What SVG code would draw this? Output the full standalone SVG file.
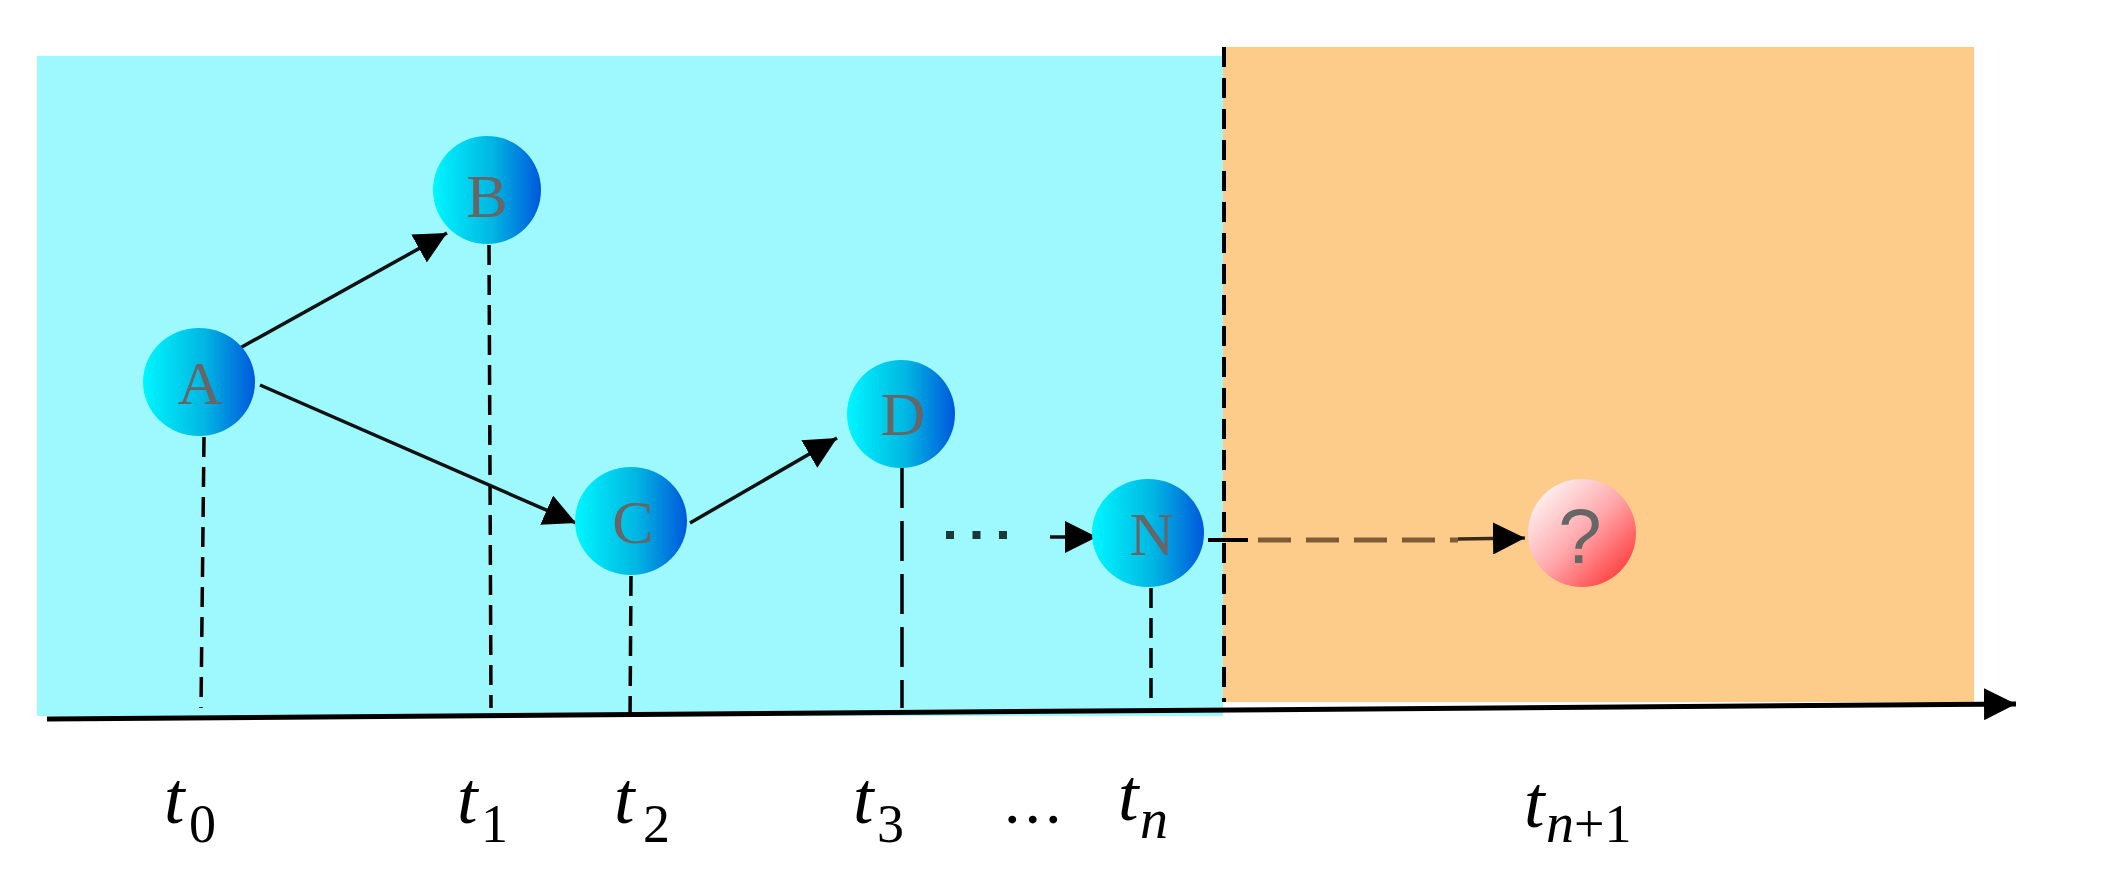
<svg xmlns="http://www.w3.org/2000/svg" width="2109" height="882" viewBox="0 0 2109 882">
<style>
.node-letter{font-family:"Liberation Serif","DejaVu Serif",serif;font-size:62px;fill:#666;text-anchor:middle}
.q{font-family:"Liberation Sans","DejaVu Sans",sans-serif;font-size:78px;fill:#666;text-anchor:middle}
.vdash{stroke:#000;stroke-width:3.5;fill:none;stroke-dasharray:20 10}
.arrow{stroke:#111;stroke-width:3.5;fill:none;marker-end:url(#ah)}
.lbl{font-family:"Liberation Serif","DejaVu Serif",serif;font-size:74px;font-style:italic;fill:#000}
.sub{font-family:"Liberation Serif","DejaVu Serif",serif;font-size:54px;fill:#000}
.subi{font-family:"Liberation Serif","DejaVu Serif",serif;font-size:56px;font-style:italic;fill:#000}
</style>
<defs>
<linearGradient id="blue" x1="0" y1="0" x2="1" y2="0">
<stop offset="0" stop-color="#00f6ff"/>
<stop offset="0.55" stop-color="#00b6e2"/>
<stop offset="1" stop-color="#0058dc"/>
</linearGradient>
<linearGradient id="red" x1="0.1" y1="0.1" x2="0.9" y2="0.9">
<stop offset="0" stop-color="#fff4f4"/>
<stop offset="0.5" stop-color="#ffa8ac"/>
<stop offset="1" stop-color="#ff3c3c"/>
</linearGradient>
<marker id="ah" viewBox="0 0 32 32" refX="32" refY="16" markerWidth="32" markerHeight="32" markerUnits="userSpaceOnUse" orient="auto">
<path d="M0,0 L32,16 L0,32 Z" fill="#000"/>
</marker>
</defs>

<g id="background">
<rect x="37" y="56" width="1186" height="660" fill="#9df9fe"/>
<rect x="1223" y="47" width="751" height="655" fill="#fecc8a"/>
</g>

<g id="connectors">
<line class="vdash" x1="1224" y1="47" x2="1224" y2="702" style="stroke-width:4;stroke-dasharray:20 11"/>
<line class="vdash" x1="204" y1="437" x2="201" y2="708"/>
<line class="vdash" x1="489" y1="245" x2="491" y2="708"/>
<line class="vdash" x1="631" y1="576" x2="630" y2="722"/>
<line class="vdash" x1="902" y1="468" x2="902" y2="708" style="stroke-dasharray:40 13"/>
<line class="vdash" x1="1151" y1="588" x2="1151" y2="708"/>
<line x1="47" y1="719" x2="2016" y2="704" stroke="#000" stroke-width="5" marker-end="url(#ah)"/>
<line class="arrow" x1="240" y1="348" x2="447" y2="233"/>
<line class="arrow" x1="260" y1="385" x2="576" y2="523"/>
<line class="arrow" x1="690" y1="523" x2="837" y2="438"/>
<line x1="946" y1="535" x2="1010" y2="535" stroke="#1a3a3a" stroke-width="8" stroke-dasharray="8 18.5"/>
<line class="arrow" x1="1050" y1="537" x2="1097" y2="537"/>
<line x1="1208" y1="540" x2="1248" y2="540" stroke="#000" stroke-width="4"/>
<line x1="1258" y1="540" x2="1458" y2="540" stroke="#7e5c38" stroke-width="5" stroke-dasharray="33 15"/>
<line x1="1458" y1="539" x2="1525" y2="538" stroke="#3a2a18" stroke-width="3.5" marker-end="url(#ah)"/>
</g>

<g id="node-A">
<ellipse cx="199" cy="382" rx="56" ry="54" fill="url(#blue)"/>
<text class="node-letter" x="200" y="404">A</text>
</g>
<g id="node-B">
<ellipse cx="487" cy="190" rx="54" ry="54" fill="url(#blue)"/>
<text class="node-letter" x="487" y="217">B</text>
</g>
<g id="node-C">
<ellipse cx="631" cy="521" rx="56" ry="54" fill="url(#blue)"/>
<text class="node-letter" x="633" y="543">C</text>
</g>
<g id="node-D">
<ellipse cx="901" cy="414" rx="54" ry="54" fill="url(#blue)"/>
<text class="node-letter" x="903" y="435">D</text>
</g>
<g id="node-N">
<ellipse cx="1148" cy="533" rx="56" ry="54" fill="url(#blue)"/>
<text class="node-letter" x="1152" y="555">N</text>
</g>
<g id="node-Q">
<ellipse cx="1582" cy="533" rx="54" ry="54" fill="url(#red)"/>
<text class="q" x="1580" y="563">?</text>
</g>

<g id="labels">
<text class="lbl" x="164" y="823">t</text><text class="sub" x="189" y="842">0</text>
<text class="lbl" x="457" y="823">t</text><text class="sub" x="481" y="842">1</text>
<text class="lbl" x="614" y="823">t</text><text class="sub" x="643" y="842">2</text>
<text class="lbl" x="853" y="823">t</text><text class="sub" x="877" y="842">3</text>
<text class="lbl" x="1004" y="823" style="font-style:normal;font-size:66px;letter-spacing:4px">...</text>
<text class="lbl" x="1118" y="820">t</text><text class="subi" x="1140" y="838">n</text>
<text class="lbl" x="1524" y="827">t</text><text class="subi" x="1546" y="842">n</text><text class="sub" x="1574" y="842">+1</text>
</g>
</svg>
